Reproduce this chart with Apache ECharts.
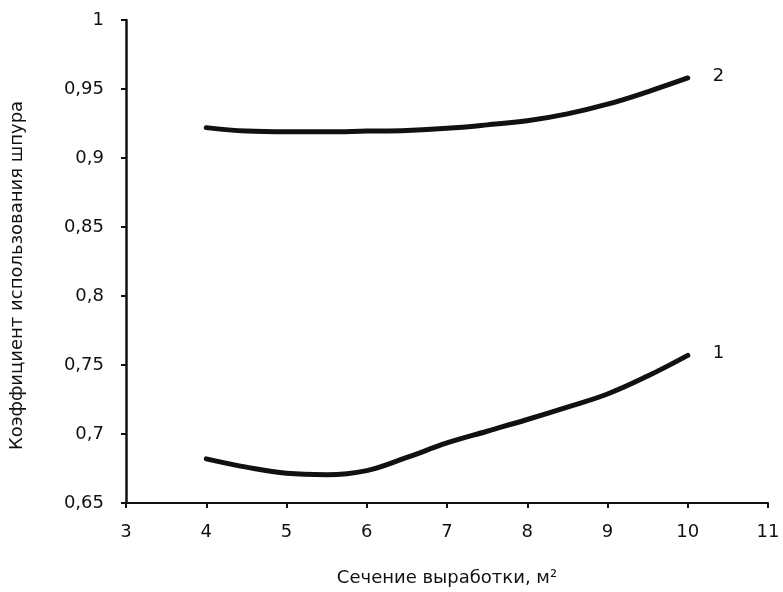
<!DOCTYPE html>
<html>
<head>
<meta charset="utf-8">
<script src="https://cdn.jsdelivr.net/npm/echarts@6/dist/echarts.min.js"></script>
<style>
html,body{margin:0;padding:0;background:#fff;}
#chart{width:783px;height:592px;}
</style>
</head>
<body>
<div id="chart"></div>
<script>
// Data
var xValues = [4, 4.5, 5, 5.5, 6, 6.5, 7, 7.5, 8, 8.5, 9, 9.5, 10];
var curve1 = [0.682, 0.676, 0.6715, 0.6705, 0.6735, 0.683, 0.6935, 0.702, 0.7105, 0.7195, 0.729, 0.742, 0.757];
var curve2 = [0.922, 0.9195, 0.919, 0.919, 0.9195, 0.920, 0.9215, 0.924, 0.927, 0.932, 0.939, 0.948, 0.958];
var curveNames = ['1', '2'];
var xTitle = 'Сечение выработки, м²';
var yTitle = 'Коэффициент использования шпура';

function pairs(ys) { return xValues.map(function (x, i) { return [x, ys[i]]; }); }
function fmt(v) { return String(+(+v).toFixed(2)).replace('.', ','); }

var font = 'DejaVu Sans, Liberation Sans, sans-serif';
var ink = '#111';

var chart = echarts.init(document.getElementById('chart'), null, { renderer: 'canvas' });
chart.setOption({
  backgroundColor: '#fff',
  animation: false,
  grid: { left: 120, right: 15, top: 20, bottom: 83, containLabel: false },
  xAxis: {
    type: 'value', min: 3, max: 11, interval: 1,
    name: xTitle, nameLocation: 'middle', nameGap: 66,
    nameTextStyle: { fontFamily: font, fontSize: 18, color: ink },
    axisLine: { lineStyle: { color: ink, width: 2 } },
    axisTick: { show: true, length: 5, lineStyle: { color: ink, width: 2 } },
    axisLabel: { fontFamily: font, fontSize: 18, color: ink, margin: 20, formatter: fmt },
    splitLine: { show: false }
  },
  yAxis: {
    type: 'value', min: 0.65, max: 1, interval: 0.05,
    name: yTitle, nameLocation: 'middle', nameGap: 100,
    nameTextStyle: { fontFamily: font, fontSize: 18, color: ink, padding: [0, 28, 0, 0] },
    axisLine: { lineStyle: { color: ink, width: 2.5 } },
    axisTick: { show: true, length: 5, lineStyle: { color: ink, width: 2 } },
    axisLabel: { fontFamily: font, fontSize: 18, color: ink, margin: 22, formatter: fmt },
    splitLine: { show: false }
  },
  series: [curve1, curve2].map(function (ys, i) {
    return {
      type: 'line', name: curveNames[i], data: pairs(ys), smooth: 0.4,
      showSymbol: false, symbol: 'none',
      lineStyle: { color: ink, width: 5, cap: 'round' },
      endLabel: {
        show: true, formatter: curveNames[i], distance: 25, offset: [0, -2],
        fontFamily: font, fontSize: 18, color: ink
      }
    };
  })
});
</script>
</body>
</html>
